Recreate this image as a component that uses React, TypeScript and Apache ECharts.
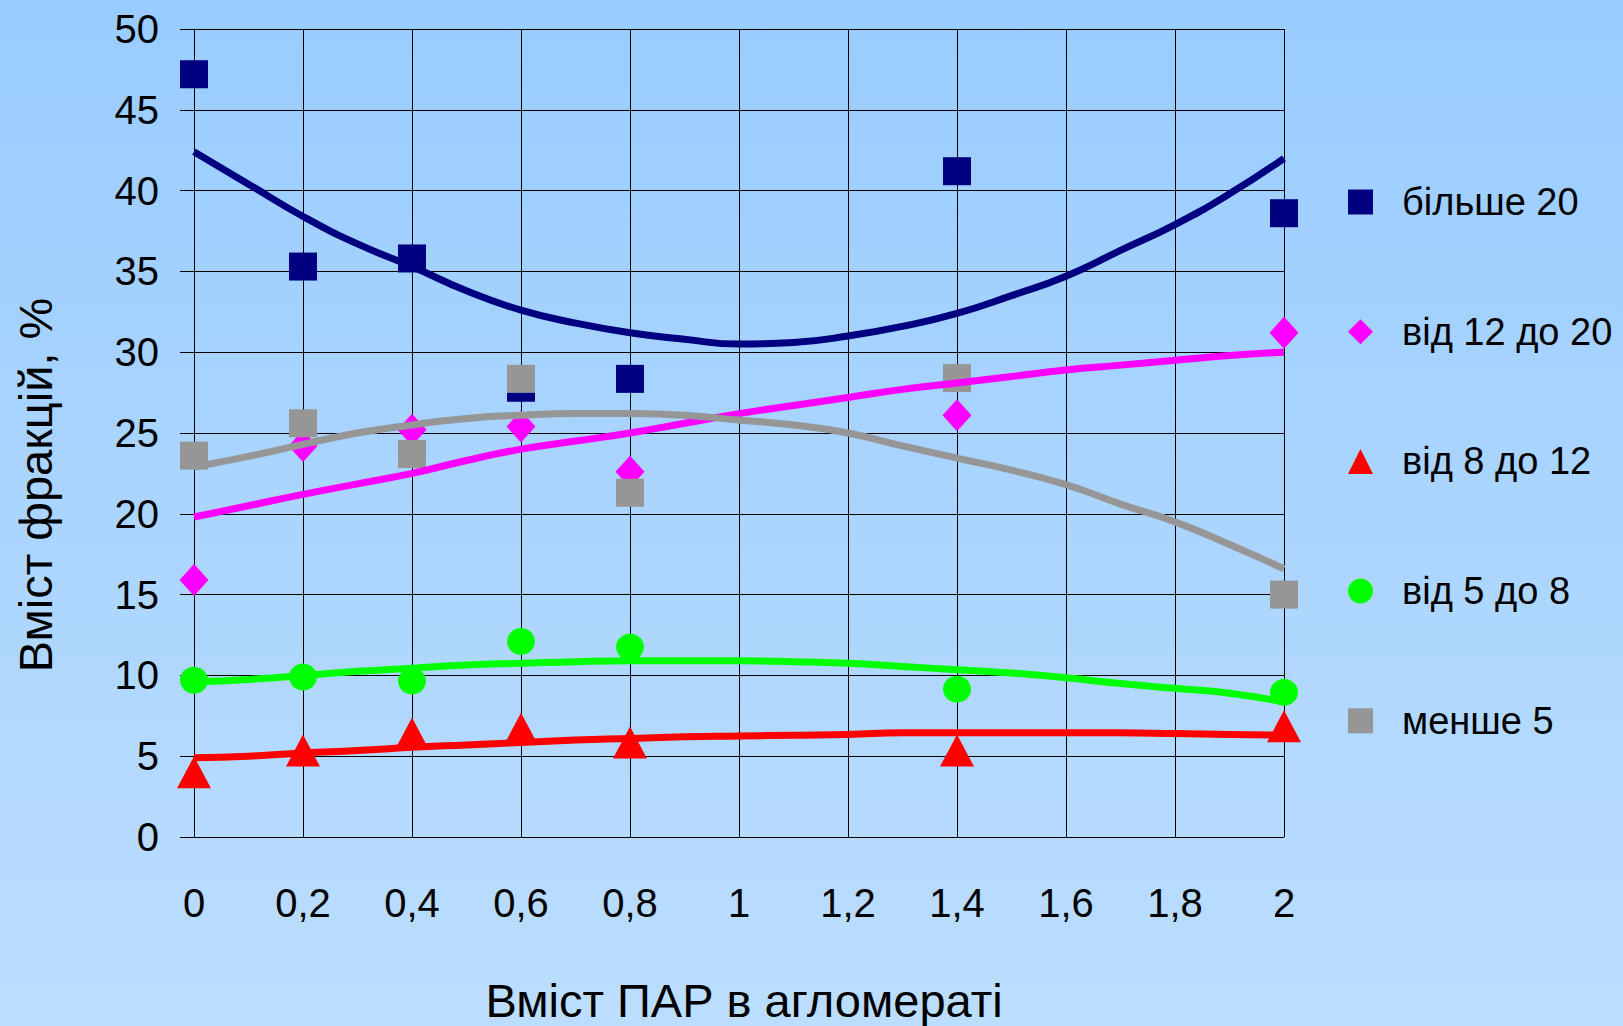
import React, { useEffect, useRef } from "react";
import * as echarts from "echarts";

const xPoints = [0, 0.2, 0.4, 0.6, 0.8, 1.4, 2];
const over20 = [47.2, 35.3, 35.8, 27.8, 28.35, 41.2, 38.6];
const from12to20 = [15.9, 24.2, 25.2, 25.4, 22.6, 26.1, 31.2];
const from8to12 = [4.0, 5.35, 6.4, 6.7, 5.85, 5.35, 6.85];
const from5to8 = [9.7, 9.9, 9.65, 12.1, 11.75, 9.15, 8.95];
const under5 = [23.6, 25.6, 23.7, 28.35, 21.3, 28.4, 15.0];

const trendX = [0, 0.1, 0.2, 0.3, 0.4, 0.5, 0.6, 0.7, 0.8, 0.9, 1.0, 1.1, 1.2, 1.3, 1.4, 1.5, 1.6, 1.7, 1.8, 1.9, 2.0];
const trendOver20 = [42.4, 40.4, 38.4, 36.7, 35.3, 33.8, 32.6, 31.8, 31.2, 30.8, 30.5, 30.6, 31.0, 31.6, 32.4, 33.5, 34.7, 36.3, 37.9, 39.8, 42.0];
const trend12to20 = [19.8, 20.5, 21.2, 21.85, 22.5, 23.3, 24.0, 24.5, 25.0, 25.6, 26.2, 26.7, 27.2, 27.7, 28.1, 28.5, 28.9, 29.2, 29.5, 29.8, 30.0];
const trend8to12 = [4.9, 5.0, 5.2, 5.35, 5.55, 5.7, 5.85, 6.0, 6.1, 6.2, 6.25, 6.3, 6.35, 6.45, 6.45, 6.45, 6.45, 6.45, 6.4, 6.35, 6.3];
const trend5to8 = [9.6, 9.75, 10.0, 10.25, 10.45, 10.65, 10.75, 10.85, 10.9, 10.9, 10.9, 10.85, 10.75, 10.55, 10.35, 10.15, 9.85, 9.5, 9.2, 8.9, 8.35];
const trendUnder5 = [22.9, 23.55, 24.3, 25.0, 25.5, 25.9, 26.1, 26.2, 26.2, 26.1, 25.8, 25.5, 25.0, 24.2, 23.45, 22.7, 21.8, 20.6, 19.5, 18.1, 16.6];

const seriesNames = ["більше 20", "від 12 до 20", "від 8 до 12", "від 5 до 8", "менше 5"];
const colors = ["#000080", "#FF00FF", "#FF0000", "#00FF00", "#969696"];
const symbols = ["rect", "diamond", "triangle", "circle", "rect"];
const symbolSizes: any[] = [28, [29, 32], [34, 32], [28, 27], 28];
const pointSets = [over20, from12to20, from8to12, from5to8, under5];
const trendSets = [trendOver20, trend12to20, trend8to12, trend5to8, trendUnder5];

const FONT = '"Liberation Sans", Arial, sans-serif';

export default function App() {
  const ref = useRef<HTMLDivElement>(null);
  useEffect(() => {
    if (!ref.current) return;
    const chart = echarts.init(ref.current, null, { renderer: "svg" });
    const lineStyle = { color: "#000", width: 1 };
    const scatterSeries = seriesNames.map((name, i) => ({
      name,
      type: "scatter",
      z: 2,
      symbol: symbols[i],
      symbolSize: symbolSizes[i],
      itemStyle: { color: colors[i], opacity: 1 },
      data: xPoints.map((x, k) => [x, pointSets[i][k]]),
    }));
    const trendSeries = seriesNames.map((name, i) => ({
      name: name + " (тренд)",
      type: "line",
      z: 3,
      smooth: true,
      showSymbol: false,
      symbol: "none",
      lineStyle: { color: colors[i], width: 7 },
      data: trendX.map((x, k) => [x, trendSets[i][k]]),
    }));
    chart.setOption({
      animation: false,
      backgroundColor: {
        type: "linear",
        x: 0,
        y: 0,
        x2: 0,
        y2: 1,
        colorStops: [
          { offset: 0, color: "#99CCFF" },
          { offset: 1, color: "#BCDEFE" },
        ],
      },
      textStyle: { fontFamily: FONT },
      grid: { left: 194, right: 339, top: 29, bottom: 189, containLabel: false },
      xAxis: {
        type: "value",
        min: 0,
        max: 2,
        interval: 0.2,
        axisLine: { show: true, lineStyle },
        axisTick: { show: false },
        splitLine: { show: true, lineStyle },
        axisLabel: {
          fontSize: 40,
          fontFamily: FONT,
          color: "#000",
          margin: 46,
          formatter: (v: number) => String(Math.round(v * 10) / 10).replace(".", ","),
        },
      },
      yAxis: {
        type: "value",
        min: 0,
        max: 50,
        interval: 5,
        axisLine: { show: true, lineStyle },
        axisTick: { show: true, length: 14, lineStyle },
        splitLine: { show: true, lineStyle },
        axisLabel: { fontSize: 40, fontFamily: FONT, color: "#000", margin: 35 },
      },
      legend: {
        orient: "vertical",
        left: 1343,
        top: 177,
        itemWidth: 25,
        itemHeight: 25,
        itemGap: 89.7,
        data: seriesNames.map((n, i) => ({ name: n, icon: symbols[i] })),
        textStyle: {
          fontSize: 38,
          fontFamily: FONT,
          color: "#000",
          lineHeight: 40,
          padding: [0, 0, 0, 24],
        },
      },
      graphic: [
        {
          type: "text",
          x: 744,
          y: 1000,
          style: {
            text: "Вміст ПАР в агломераті",
            fontSize: 47,
            fontFamily: FONT,
            fill: "#000",
            align: "center",
            verticalAlign: "middle",
          },
        },
        {
          type: "text",
          x: 35,
          y: 485,
          rotation: Math.PI / 2,
          style: {
            text: "Вміст фракцій, %",
            fontSize: 47,
            fontFamily: FONT,
            fill: "#000",
            align: "center",
            verticalAlign: "middle",
          },
        },
      ],
      series: [...scatterSeries, ...trendSeries],
    });
    return () => chart.dispose();
  }, []);
  return (
    <div
      ref={ref}
      style={{ position: "fixed", left: 0, top: 0, width: "1623px", height: "1026px" }}
    />
  );
}
